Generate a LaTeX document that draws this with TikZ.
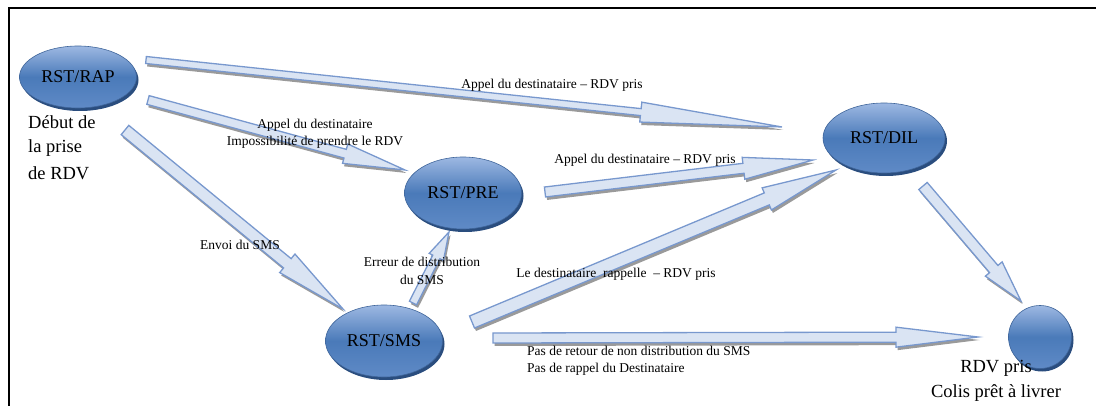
\documentclass[tikz,border=0pt]{standalone}
\usepackage{fontspec}
\setmainfont{Liberation Serif}
\usetikzlibrary{shapes.geometric,shadows}
\definecolor{arrfill}{HTML}{DAE4F3}
\definecolor{arrdraw}{HTML}{7898CE}
\definecolor{arrshad}{HTML}{9A9A9A}
\definecolor{ellborder}{HTML}{3F659A}
\definecolor{ellshadow}{HTML}{2A4D7E}
\definecolor{elltop}{HTML}{9DB8E2}
\definecolor{ellmid}{HTML}{4A7AB9}
\definecolor{ellbot}{HTML}{5F8AC6}
\tikzset{
 state/.style={ellipse, draw=ellborder, line width=0.6pt, top color=elltop, bottom color=ellbot, middle color=ellmid,
   drop shadow={shadow xshift=2pt, shadow yshift=-3pt, opacity=1, fill=ellshadow},
   font=\fontsize{18}{20}\selectfont, text=black, inner sep=0pt},
 lbl/.style={font=\fontsize{13.5}{17.5}\selectfont, align=center, inner sep=0pt},
 bigtxt/.style={font=\fontsize{18.5}{25}\selectfont, inner sep=0pt},
 arrbody/.style={fill=arrfill, draw=arrdraw, line width=1.3pt, line join=miter},
 arrshadow/.style={fill=arrshad},
}
\newcommand\blockarrow[5]{%
 \path (#1); \pgfgetlastxy{\bax}{\bay}%
 \path (#2); \pgfgetlastxy{\bbx}{\bby}%
 \pgfmathsetmacro\bang{atan2(\bby-\bay,\bbx-\bax)}%
 \pgfmathsetmacro\blen{veclen(\bbx-\bax,\bby-\bay)}%
 \pgfmathsetmacro\bhb{\blen-#5}%
 \begin{scope}[shift={(\bax+1.5pt,\bay-3pt)}, rotate=\bang, x=1pt, y=1pt]
  \fill[arrshadow] (0,-#3)--(\bhb,-#3)--(\bhb,-#4)--(\blen,0)--(\bhb,#4)--(\bhb,#3)--(0,#3)--cycle;
 \end{scope}
 \begin{scope}[shift={(\bax,\bay)}, rotate=\bang, x=1pt, y=1pt]
  \path[arrbody] (0,-#3)--(\bhb,-#3)--(\bhb,-#4)--(\blen,0)--(\bhb,#4)--(\bhb,#3)--(0,#3)--cycle;
 \end{scope}
}
\begin{document}
\begin{tikzpicture}[x=1pt,y=-1pt]
\useasboundingbox (0,0) rectangle (1096,406);
% frame
\draw[line width=2pt] (9,406) -- (9,8) -- (1096,8);

% arrow end points
\coordinate (a1s) at (146,60);  \coordinate (a1e) at (782,127);
\coordinate (a2s) at (148,100); \coordinate (a2e) at (405,170);
\coordinate (a3s) at (125,130); \coordinate (a3e) at (343,309);
\coordinate (a4s) at (545,192); \coordinate (a4e) at (813,160);
\coordinate (a5s) at (413,303); \coordinate (a5e) at (449,232);
\coordinate (a6s) at (472,322); \coordinate (a6e) at (836,170);
\coordinate (a7s) at (493,338); \coordinate (a7e) at (978,337);
\coordinate (a8s) at (923,186); \coordinate (a8e) at (1021,301);

\blockarrow{a1s}{a1e}{3.5}{10}{142}
\blockarrow{a2s}{a2e}{4.5}{10}{62}
\blockarrow{a3s}{a3e}{6}{12}{72}
\blockarrow{a4s}{a4e}{5}{11}{70}
\blockarrow{a5s}{a5e}{4}{8}{28}
\blockarrow{a6s}{a6e}{6.5}{12}{75}
\blockarrow{a7s}{a7e}{5}{10}{82}
\blockarrow{a8s}{a8e}{5.5}{11}{42}

% states
\node[state, minimum width=117pt, minimum height=62pt] (rap) at (78,77) {RST/RAP};
\node[state, minimum width=117pt, minimum height=72pt] (pre) at (463,193) {RST/PRE};
\node[state, minimum width=122pt, minimum height=70pt] (dil) at (884,138) {RST/DIL};
\node[state, minimum width=117pt, minimum height=72pt] (sms) at (384,341) {RST/SMS};
\node[state, circle, minimum size=63pt] (fin) at (1040,337) {};

% texts
\node[bigtxt, anchor=west] (deb1) at (28,122) {Début de};
\node[bigtxt, anchor=west] (deb2) at (28,148) {la prise};
\node[bigtxt, anchor=west] (deb3) at (28,173) {de RDV};
\node[bigtxt] (fin1) at (996,368) {RDV pris};
\node[bigtxt] (fin2) at (996,393) {Colis prêt à livrer};

\node[lbl] (l1) at (552,85) {Appel du destinataire – RDV pris};
\node[lbl] (l2) at (315,134) {Appel du destinataire\\Impossibilité de prendre le RDV};
\node[lbl] (l3) at (240,245) {Envoi du SMS};
\node[lbl] (l4) at (645,160) {Appel du destinataire – RDV pris};
\node[lbl] (l5) at (422,271) {Erreur de distribution\\du SMS};
\node[lbl] (l6) at (616,274) {Le destinataire\ \ rappelle\ \ – RDV pris};
\node[lbl, align=left, anchor=west] (l7) at (527,361) {Pas de retour de non distribution du SMS\\Pas de rappel du Destinataire};
\end{tikzpicture}
\end{document}
